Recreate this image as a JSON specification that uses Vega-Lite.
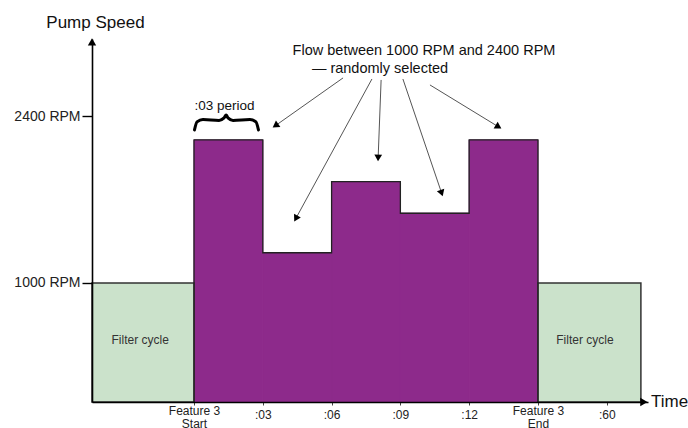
{
  "$schema": "https://vega.github.io/schema/vega-lite/v6.json",
  "width": 556,
  "height": 363,
  "autosize": {"type": "none"},
  "padding": {"left": 92, "top": 39, "right": 40, "bottom": 26},
  "background": "white",
  "config": {"font": "Liberation Sans", "view": {"stroke": null}},
  "datasets": {
    "blocks": [
      {"kind": "filter", "t0": -4.45, "t1": 0, "rpm": 1000},
      {"kind": "feature", "t0": 0, "t1": 3, "rpm": 2202},
      {"kind": "feature", "t0": 3, "t1": 6, "rpm": 1254},
      {"kind": "feature", "t0": 6, "t1": 9, "rpm": 1851},
      {"kind": "feature", "t0": 9, "t1": 12, "rpm": 1586},
      {"kind": "feature", "t0": 12, "t1": 15, "rpm": 2202},
      {"kind": "filter", "t0": 15, "t1": 19.49, "rpm": 1000}
    ],
    "outline": [
      {"seq": 1, "t": 0, "rpm": 0},
      {"seq": 2, "t": 0, "rpm": 2202},
      {"seq": 3, "t": 3, "rpm": 2202},
      {"seq": 4, "t": 3, "rpm": 1254},
      {"seq": 5, "t": 6, "rpm": 1254},
      {"seq": 6, "t": 6, "rpm": 1851},
      {"seq": 7, "t": 9, "rpm": 1851},
      {"seq": 8, "t": 9, "rpm": 1586},
      {"seq": 9, "t": 12, "rpm": 1586},
      {"seq": 10, "t": 12, "rpm": 2202},
      {"seq": 11, "t": 15, "rpm": 2202},
      {"seq": 12, "t": 15, "rpm": 0}
    ],
    "arrows": [
      {"id": 1, "t0": 6.5, "r0": 2723, "t1": 3.55, "r1": 2322},
      {"id": 2, "t0": 7.76, "r0": 2714, "t1": 4.44, "r1": 1542},
      {"id": 3, "t0": 8.16, "r0": 2706, "t1": 8.03, "r1": 2050},
      {"id": 4, "t0": 9.11, "r0": 2714, "t1": 10.8, "r1": 1755},
      {"id": 5, "t0": 10.29, "r0": 2664, "t1": 13.28, "r1": 2312}
    ],
    "axisArrows": [
      {"id": "y", "t": -4.45, "rpm": 3025},
      {"id": "x", "t": 19.62, "rpm": 0}
    ],
    "brace": [
      {"seq": 1, "t": 0.02, "rpm": 2286},
      {"seq": 2, "t": 0.13, "rpm": 2353},
      {"seq": 3, "t": 0.39, "rpm": 2374},
      {"seq": 4, "t": 1.09, "rpm": 2366},
      {"seq": 5, "t": 1.31, "rpm": 2387},
      {"seq": 6, "t": 1.4, "rpm": 2412},
      {"seq": 7, "t": 1.48, "rpm": 2387},
      {"seq": 8, "t": 1.7, "rpm": 2366},
      {"seq": 9, "t": 2.44, "rpm": 2374},
      {"seq": 10, "t": 2.7, "rpm": 2353},
      {"seq": 11, "t": 2.81, "rpm": 2286}
    ],
    "texts": [
      {"role": "filter", "t": -2.35, "rpm": 521, "text": "Filter cycle"},
      {"role": "filter", "t": 17.05, "rpm": 521, "text": "Filter cycle"},
      {"role": "note", "t": 10.03, "rpm": 2950, "text": "Flow between 1000 RPM and 2400 RPM"},
      {"role": "note", "t": 8.11, "rpm": 2798, "text": "— randomly selected"},
      {"role": "period", "t": 1.33, "rpm": 2487, "text": ":03 period"},
      {"role": "axis", "t": -4.3, "rpm": 3185, "text": "Pump Speed"},
      {"role": "axis", "t": 20.74, "rpm": 0, "text": "Time"}
    ]
  },
  "layer": [
    {
      "data": {"name": "blocks"},
      "transform": [{"filter": "datum.kind == 'feature'"}],
      "mark": {"type": "rect", "fill": "#8D2A8B", "stroke": "#8D2A8B", "strokeWidth": 1},
      "encoding": {
        "x": {
          "field": "t0", "type": "quantitative",
          "scale": {"domain": [-4.45, 19.8], "nice": false, "zero": false},
          "axis": {
            "title": null, "values": [0, 3, 6, 9, 12, 15, 18],
            "labelExpr": "datum.value == 0 ? ['Feature 3', 'Start'] : datum.value == 15 ? ['Feature 3', 'End'] : datum.value == 18 ? ':60' : datum.value < 10 ? ':0' + datum.value : ':' + datum.value",
            "labelFontSize": 12, "labelColor": "#222222", "labelLineHeight": 13,
            "labelOverlap": false, "labelFlush": false,
            "labelPadding": {"condition": {"test": "datum.value == 0 || datum.value == 15", "value": 0}, "value": 4},
            "tickSize": 3, "tickColor": "#444444", "tickWidth": 1,
            "domainColor": "#000000", "domainWidth": 1.6, "grid": false, "zindex": 1
          }
        },
        "x2": {"field": "t1"},
        "y": {
          "field": "rpm", "type": "quantitative",
          "scale": {"domain": [0, 3050], "nice": false},
          "axis": {
            "title": null, "values": [1000, 2400],
            "labelExpr": "datum.value + ' RPM'",
            "labelFontSize": 14, "labelColor": "#222222", "labelPadding": 2,
            "labelOverlap": false, "labelFlush": false,
            "tickSize": 10, "tickColor": "#000000", "tickWidth": 1.4,
            "domainColor": "#000000", "domainWidth": 1.6, "grid": false, "zindex": 1
          }
        },
        "y2": {"datum": 0}
      }
    },
    {
      "data": {"name": "blocks"},
      "transform": [{"filter": "datum.kind == 'filter'"}],
      "mark": {"type": "rect", "fill": "#CBE2CB", "stroke": "#333333", "strokeWidth": 1.5},
      "encoding": {
        "x": {"field": "t0", "type": "quantitative", "title": null},
        "x2": {"field": "t1"},
        "y": {"field": "rpm", "type": "quantitative", "title": null},
        "y2": {"datum": 0}
      }
    },
    {
      "data": {"name": "outline"},
      "mark": {"type": "line", "color": "#222222", "strokeWidth": 1.3},
      "encoding": {
        "x": {"field": "t", "type": "quantitative", "title": null},
        "y": {"field": "rpm", "type": "quantitative", "title": null},
        "order": {"field": "seq"}
      }
    },
    {
      "data": {"name": "arrows"},
      "mark": {"type": "rule", "color": "#555555", "strokeWidth": 1},
      "encoding": {
        "x": {"field": "t0", "type": "quantitative", "title": null},
        "y": {"field": "r0", "type": "quantitative", "title": null},
        "x2": {"field": "t1"},
        "y2": {"field": "r1"}
      }
    },
    {
      "data": {"name": "arrows"},
      "transform": [{"filter": "datum.id == 1"}],
      "mark": {"type": "point", "shape": "triangle-up", "filled": true, "color": "#000000", "opacity": 1, "size": 60, "angle": 235},
      "encoding": {
        "x": {"field": "t1", "type": "quantitative", "title": null},
        "y": {"field": "r1", "type": "quantitative", "title": null}
      }
    },
    {
      "data": {"name": "arrows"},
      "transform": [{"filter": "datum.id == 2"}],
      "mark": {"type": "point", "shape": "triangle-up", "filled": true, "color": "#000000", "opacity": 1, "size": 60, "angle": 208.6},
      "encoding": {
        "x": {"field": "t1", "type": "quantitative", "title": null},
        "y": {"field": "r1", "type": "quantitative", "title": null}
      }
    },
    {
      "data": {"name": "arrows"},
      "transform": [{"filter": "datum.id == 3"}],
      "mark": {"type": "point", "shape": "triangle-up", "filled": true, "color": "#000000", "opacity": 1, "size": 60, "angle": 182},
      "encoding": {
        "x": {"field": "t1", "type": "quantitative", "title": null},
        "y": {"field": "r1", "type": "quantitative", "title": null}
      }
    },
    {
      "data": {"name": "arrows"},
      "transform": [{"filter": "datum.id == 4"}],
      "mark": {"type": "point", "shape": "triangle-up", "filled": true, "color": "#000000", "opacity": 1, "size": 60, "angle": 161.3},
      "encoding": {
        "x": {"field": "t1", "type": "quantitative", "title": null},
        "y": {"field": "r1", "type": "quantitative", "title": null}
      }
    },
    {
      "data": {"name": "arrows"},
      "transform": [{"filter": "datum.id == 5"}],
      "mark": {"type": "point", "shape": "triangle-up", "filled": true, "color": "#000000", "opacity": 1, "size": 60, "angle": 121.4},
      "encoding": {
        "x": {"field": "t1", "type": "quantitative", "title": null},
        "y": {"field": "r1", "type": "quantitative", "title": null}
      }
    },
    {
      "data": {"name": "axisArrows"},
      "transform": [{"filter": "datum.id == 'y'"}],
      "mark": {"type": "point", "shape": "triangle-up", "filled": true, "color": "#000000", "opacity": 1, "size": 70},
      "encoding": {
        "x": {"field": "t", "type": "quantitative", "title": null},
        "y": {"field": "rpm", "type": "quantitative", "title": null}
      }
    },
    {
      "data": {"name": "axisArrows"},
      "transform": [{"filter": "datum.id == 'x'"}],
      "mark": {"type": "point", "shape": "triangle-right", "filled": true, "color": "#000000", "opacity": 1, "size": 70},
      "encoding": {
        "x": {"field": "t", "type": "quantitative", "title": null},
        "y": {"field": "rpm", "type": "quantitative", "title": null}
      }
    },
    {
      "data": {"name": "brace"},
      "mark": {"type": "line", "color": "#000000", "strokeWidth": 3, "interpolate": "monotone", "strokeCap": "round"},
      "encoding": {
        "x": {"field": "t", "type": "quantitative", "title": null},
        "y": {"field": "rpm", "type": "quantitative", "title": null},
        "order": {"field": "seq"}
      }
    },
    {
      "data": {"name": "texts"},
      "transform": [{"filter": "datum.role == 'filter'"}],
      "mark": {"type": "text", "fontSize": 12, "color": "#333333", "align": "center", "baseline": "middle"},
      "encoding": {
        "x": {"field": "t", "type": "quantitative", "title": null},
        "y": {"field": "rpm", "type": "quantitative", "title": null},
        "text": {"field": "text"}
      }
    },
    {
      "data": {"name": "texts"},
      "transform": [{"filter": "datum.role == 'note'"}],
      "mark": {"type": "text", "fontSize": 14.5, "color": "#111111", "align": "center", "baseline": "middle"},
      "encoding": {
        "x": {"field": "t", "type": "quantitative", "title": null},
        "y": {"field": "rpm", "type": "quantitative", "title": null},
        "text": {"field": "text"}
      }
    },
    {
      "data": {"name": "texts"},
      "transform": [{"filter": "datum.role == 'period'"}],
      "mark": {"type": "text", "fontSize": 13.5, "color": "#111111", "align": "center", "baseline": "middle"},
      "encoding": {
        "x": {"field": "t", "type": "quantitative", "title": null},
        "y": {"field": "rpm", "type": "quantitative", "title": null},
        "text": {"field": "text"}
      }
    },
    {
      "data": {"name": "texts"},
      "transform": [{"filter": "datum.role == 'axis'"}],
      "mark": {"type": "text", "fontSize": 17, "color": "#111111", "align": "center", "baseline": "middle"},
      "encoding": {
        "x": {"field": "t", "type": "quantitative", "title": null},
        "y": {"field": "rpm", "type": "quantitative", "title": null},
        "text": {"field": "text"}
      }
    }
  ]
}
